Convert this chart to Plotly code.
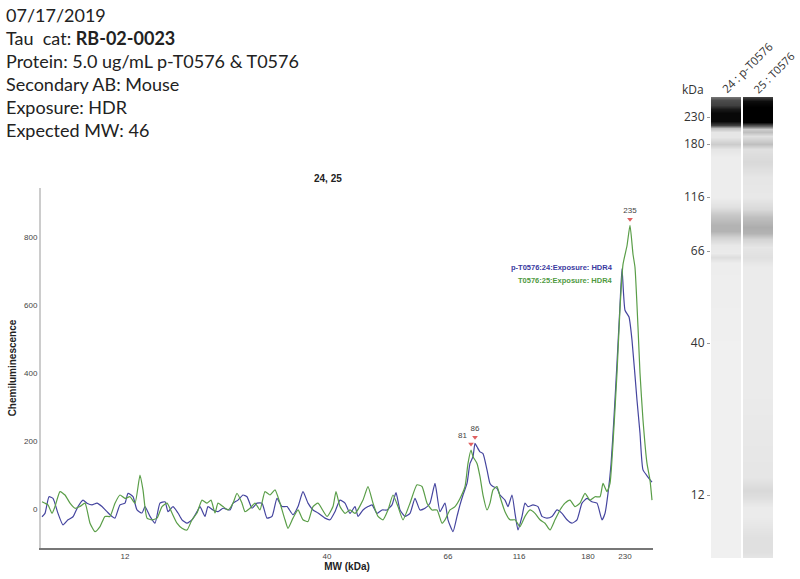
import plotly.graph_objects as go

# header text block (top left)
header_lines = [
    "07/17/2019",
    "Tau&nbsp; cat: <b>RB-02-0023</b>",
    "Protein: 5.0 ug/mL p-T0576 & T0576",
    "Secondary AB: Mouse",
    "Exposure: HDR",
    "Expected MW: 46",
]

# electropherogram: x is migration position, ticks labelled with MW
mw_tick_pos = [84, 286, 407, 478, 547, 584]
mw_tick_text = ["12", "40", "66", "116", "180", "230"]

blue_x = [1, 4, 8, 12, 17, 22, 27, 32, 37, 42, 46, 51, 56, 61, 66, 71, 74, 79, 84, 87,
          92, 96, 101, 104, 109, 114, 119, 124, 127, 132, 137, 141, 146, 151, 156, 159, 164, 167, 172, 177,
          182, 189, 192, 197, 202, 206, 211, 216, 221, 226, 231, 236, 241, 246, 252, 257, 262, 267, 272, 277,
          284, 289, 294, 299, 304, 309, 314, 317, 322, 327, 331, 336, 341, 346, 351, 355, 359, 364, 369, 374,
          379, 384, 389, 394, 399, 404, 407, 412, 416, 419, 422, 426, 429, 432, 434, 436, 439, 442, 446, 449,
          452, 456, 459, 464, 467, 471, 474, 477, 481, 484, 487, 492, 497, 501, 506, 511, 516, 521, 526, 531,
          536, 541, 546, 551, 556, 561, 564, 567, 570, 573, 576, 579, 581, 584, 588, 591, 596, 599, 602, 607,
          611]
blue_y = [-23, -13, 36, 31, -13, -47, -32, -23, 7, 26, 17, 12, 17, 7, -8, -22, -27, 12, 17, 46,
          36, -3, -12, 7, -22, -42, 17, 21, -8, 7, -12, -32, -42, -32, -8, 7, -22, 7, -3, -8,
          2, -3, 17, 26, 41, 36, 2, 17, 17, -27, -22, 31, 7, 7, -17, 7, 51, 17, -3, -12,
          -27, -32, -8, 26, 17, -13, 7, -22, -3, 7, 12, -13, -3, -3, 12, 48, -3, -22, -13, 31,
          -3, 2, 17, 75, -8, 17, -32, -67, -22, 12, 41, 75, 134, 154, 193, 183, 168, 163, 115, 75,
          66, 61, 41, 26, 7, 41, -13, -62, -22, 17, 7, 12, 7, -22, -27, -22, -3, -13, -32, -42,
          -32, 17, 31, 21, 17, -32, -13, 46, 130, 270, 430, 600, 708, 585, 565, 497, 320, 223, 115, 94,
          79]

green_x = [1, 4, 7, 11, 14, 19, 24, 29, 34, 39, 44, 49, 54, 59, 64, 69, 74, 79, 84, 89,
           94, 99, 102, 106, 111, 116, 121, 126, 131, 136, 141, 146, 151, 156, 161, 166, 170, 174, 177, 182,
           187, 192, 196, 201, 204, 209, 214, 219, 224, 229, 234, 239, 244, 247, 252, 257, 262, 267, 272, 277,
           286, 292, 295, 299, 304, 309, 314, 322, 327, 332, 337, 342, 347, 352, 357, 362, 369, 376, 381, 386,
           391, 396, 401, 404, 409, 414, 419, 424, 427, 430, 432, 436, 439, 442, 446, 449, 452, 456, 459, 464,
           469, 474, 479, 484, 489, 494, 499, 504, 509, 514, 519, 524, 529, 534, 539, 544, 549, 554, 559, 562,
           566, 569, 572, 576, 579, 582, 586, 589, 592, 594, 597, 599, 602, 606, 609, 611]
green_y = [21, 17, 12, -13, 7, 51, 41, 17, 2, 7, 17, -42, -67, -52, -22, -22, 17, 41, 31, 36,
           17, 100, 56, -27, -32, -27, 7, 17, -12, -42, -57, -62, -32, -12, 26, 17, 26, -12, 17, 7,
           -3, 17, 46, 17, -8, 2, 17, -3, 51, 41, 56, 17, -32, -57, -27, -3, -32, -37, 7, 17,
           -22, 7, 51, 7, -13, -3, -13, 26, 66, 17, -22, -32, -3, 41, 7, -32, 17, 71, 66, 17,
           -3, -3, -42, -32, -3, 7, 31, 66, 134, 173, 154, 134, 95, 41, -3, 17, 56, 66, 36, -8,
           -32, -32, -52, -22, -3, -13, -32, -42, -62, -32, -3, 17, 26, 7, 17, 46, 26, 36, 36, 75,
           51, 75, 193, 400, 590, 720, 775, 835, 750, 711, 535, 400, 262, 134, 85, 26]

# called peaks
peak_x = [430, 434, 589]
peak_y = [173, 193, 835]
peak_text = ["81", "86", "235"]

# virtual blot lanes: row position (px from lane top) and darkness 0..1
gel_rows1 = [0, 3, 8, 12, 16, 24, 28, 31, 35, 40, 47, 52, 60, 100, 110, 118, 128, 134, 140, 148,
             156, 160, 166, 250, 461]
lane1 = [0.55, 0.7, 0.75, 0.9, 0.97, 0.97, 0.75, 0.25, 0.1, 0.1, 0.2, 0.1, 0.07, 0.07, 0.12, 0.22, 0.3, 0.3, 0.18, 0.09,
         0.08, 0.13, 0.07, 0.06, 0.06]
gel_rows2 = [0, 4, 10, 25, 29, 32, 35, 39, 47, 52, 65, 80, 100, 112, 120, 130, 136, 142, 150, 160,
             170, 300, 380, 393, 400, 410, 420, 440, 455, 461]
lane2 = [0.75, 0.95, 1.0, 1.0, 0.6, 0.2, 0.25, 0.12, 0.25, 0.12, 0.15, 0.1, 0.09, 0.15, 0.25, 0.32, 0.3, 0.17, 0.1, 0.12,
         0.08, 0.08, 0.1, 0.15, 0.13, 0.08, 0.08, 0.12, 0.12, 0.1]
gel_tick_pos = [20, 47, 100, 154, 246, 398]
gel_tick_text = ["230", "180", "116", "66", "40", "12"]
lane_labels = ["24 : p-T0576", "25 : T0576"]

BLUE = "#45459f"
GREEN = "#5a9e48"
small = dict(family="Arial, Liberation Sans", size=8, color="#444")

fig = go.Figure()
fig.add_trace(go.Scatter(x=blue_x, y=blue_y, mode="lines",
                         line=dict(color=BLUE, width=1.2, shape="spline", smoothing=0.5),
                         hoverinfo="skip"))
fig.add_trace(go.Scatter(x=green_x, y=green_y, mode="lines",
                         line=dict(color=GREEN, width=1.2, shape="spline", smoothing=0.5),
                         hoverinfo="skip"))
fig.add_trace(go.Scatter(x=peak_x, y=[v + 18 for v in peak_y], mode="markers+text",
                         marker=dict(symbol="triangle-down", size=5, color="#e06060"),
                         text=peak_text, textposition=["top left", "top center", "top center"],
                         textfont=small, hoverinfo="skip"))

# lanes
fig.add_trace(go.Heatmap(x=[7.5, 22.5], y=gel_rows1, z=[[v, v] for v in lane1],
                         xaxis="x2", yaxis="y2", zmin=0, zmax=1, zsmooth="best",
                         colorscale=[[0, "white"], [1, "black"]], showscale=False, hoverinfo="skip"))
fig.add_trace(go.Heatmap(x=[39.5, 54.5], y=gel_rows2, z=[[v, v] for v in lane2],
                         xaxis="x2", yaxis="y2", zmin=0, zmax=1, zsmooth="best",
                         colorscale=[[0, "white"], [1, "black"]], showscale=False, hoverinfo="skip"))

annotations = []
for i, line in enumerate(header_lines):
    annotations.append(dict(text=line, xref="paper", yref="paper", x=4 / 800, y=1 - (15 + 23 * i) / 579,
                            xanchor="left", yanchor="middle", showarrow=False,
                            font=dict(family="Lato", size=18, color="#222")))
annotations += [
    dict(text="<b>24, 25</b>", xref="paper", yref="paper", x=328 / 800, y=1 - 178 / 579,
         xanchor="center", yanchor="middle", showarrow=False,
         font=dict(family="Arial, Liberation Sans", size=10, color="#222")),
    dict(text="<b>p-T0576:24:Exposure: HDR4</b>", xref="x", yref="y", x=574, y=712,
         xanchor="right", yanchor="middle", showarrow=False,
         font=dict(family="Arial, Liberation Sans", size=7.5, color="#3a3aa0")),
    dict(text="<b>T0576:25:Exposure: HDR4</b>", xref="x", yref="y", x=574, y=672,
         xanchor="right", yanchor="middle", showarrow=False,
         font=dict(family="Arial, Liberation Sans", size=7.5, color="#4f9a3f")),
    dict(text="kDa", xref="paper", yref="paper", x=706 / 800, y=1 - 89 / 579,
         xanchor="right", yanchor="middle", showarrow=False,
         font=dict(family="Open Sans", size=12, color="#333")),
    dict(text=lane_labels[0], xref="paper", yref="paper", x=747 / 800, y=1 - 67 / 579,
         xanchor="center", yanchor="middle",
         textangle=-45, showarrow=False, font=dict(family="Open Sans", size=11.5, color="#333")),
    dict(text=lane_labels[1], xref="paper", yref="paper", x=774 / 800, y=1 - 73 / 579,
         xanchor="center", yanchor="middle",
         textangle=-45, showarrow=False, font=dict(family="Open Sans", size=11, color="#333")),
]

fig.update_layout(
    width=800, height=579,
    margin=dict(l=0, r=0, t=0, b=0),
    paper_bgcolor="white", plot_bgcolor="white",
    showlegend=False,
    annotations=annotations,
    xaxis=dict(domain=[41 / 800, 653 / 800], range=[0, 612], tickvals=mw_tick_pos, ticktext=mw_tick_text,
               showgrid=False, zeroline=False, showline=True, linecolor="#777", linewidth=1.5,
               tickfont=small, automargin=False,
               title=dict(text="<b>MW (kDa)</b>", standoff=2,
                          font=dict(family="Arial, Liberation Sans", size=10, color="#222"))),
    yaxis=dict(domain=[31 / 579, 391 / 579], range=[-115, 945], tickvals=[0, 200, 400, 600, 800],
               showgrid=False, zeroline=False, showline=True, linecolor="#ccc", linewidth=2,
               tickfont=small, automargin=False,
               title=dict(text="<b>Chemiluminescence</b>", standoff=6,
                          font=dict(family="Arial, Liberation Sans", size=10, color="#222"))),
    xaxis2=dict(domain=[711 / 800, 773 / 800], range=[0, 62], visible=False, anchor="y2"),
    yaxis2=dict(domain=[21 / 579, 482 / 579], range=[461, 0], anchor="x2",
                tickvals=gel_tick_pos, ticktext=gel_tick_text, ticks="outside", ticklen=3,
                tickcolor="#999", showgrid=False, zeroline=False, showline=False,
                tickfont=dict(family="Open Sans", size=12, color="#333"), automargin=False),
)

# page body has a default 8px margin; drop it so the figure sits at the window corner
fig.write_html("out.html", config={"displayModeBar": False},
               post_script="document.body.style.margin='0';")
